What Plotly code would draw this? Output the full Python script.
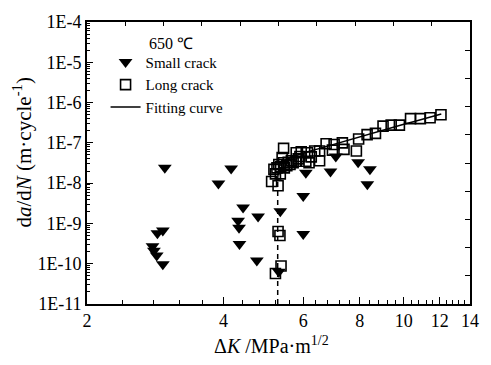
import plotly.graph_objects as go

# ---- data ----
small_dk = [2.97, 2.94, 2.86, 2.79, 2.81, 2.85, 2.94, 3.90, 4.16, 4.42, 4.31, 4.33,
            4.34, 4.77, 4.74, 5.34, 5.30, 6.00, 6.00, 6.08, 6.89, 7.08, 7.93, 8.42, 8.31]
small_rate = [2.4e-8, 6.7e-10, 5.7e-10, 2.7e-10, 2.1e-10, 1.6e-10, 9.7e-11, 9.8e-9, 2.3e-8,
              2.5e-9, 1.17e-9, 7.8e-10, 3.1e-10, 1.48e-9, 1.2e-10, 2.0e-9, 6.3e-11, 4.8e-9,
              5.5e-10, 1.8e-8, 1.95e-8, 4.6e-8, 3.3e-8, 2.2e-8, 9.4e-9]

long_dk = [5.21, 5.36, 5.28, 5.33, 5.11, 5.28, 5.21, 5.34, 5.17, 5.25, 5.30, 5.35, 5.39,
           5.43, 5.43, 5.45, 5.52, 5.56, 5.61, 5.65, 5.70, 5.79, 5.79, 5.85, 5.90, 5.94,
           6.08, 6.13, 6.18, 6.25, 6.36, 6.52, 6.52, 6.74, 6.96, 7.02, 7.32, 7.38, 7.86,
           7.95, 8.30, 8.66, 9.00, 9.38, 9.78, 10.35, 10.88, 11.43, 12.08]
long_rate = [5.7e-11, 8.8e-11, 6.3e-10, 5.0e-10, 1.1e-8, 8.6e-9, 1.7e-8, 1.7e-8, 2.2e-8,
             2.4e-8, 2.9e-8, 2.6e-8, 4.3e-8, 7.3e-8, 3.2e-8, 2.4e-8, 2.7e-8, 3.3e-8, 2.9e-8,
             3.6e-8, 3.2e-8, 3.5e-8, 5.7e-8, 4.0e-8, 4.6e-8, 6.0e-8, 3.5e-8, 5.7e-8, 3.2e-8,
             4.5e-8, 6.3e-8, 3.6e-8, 6.3e-8, 9.5e-8, 6.6e-8, 9.1e-8, 1.0e-7, 6.9e-8, 6.3e-8,
             1.25e-7, 1.6e-7, 1.72e-7, 2.6e-7, 2.75e-7, 2.75e-7, 4.0e-7, 4.0e-7, 4.2e-7, 5.0e-7]

fit_dk = [5.27, 5.28, 5.32, 5.40, 5.60, 6.00, 6.50, 7.00, 7.50, 8.00, 8.50, 9.00, 9.50,
          10.0, 10.5, 11.0, 11.5, 12.1]
fit_rate = [1.2e-8, 1.8e-8, 2.6e-8, 3.4e-8, 4.2e-8, 5.6e-8, 7.2e-8, 9.2e-8, 1.12e-7,
            1.38e-7, 1.68e-7, 2.05e-7, 2.45e-7, 2.9e-7, 3.35e-7, 3.85e-7, 4.45e-7, 5.2e-7]

thr_dk = [5.27, 5.27]
thr_rate = [1e-11, 1.2e-8]

x_major = [2, 4, 6, 8, 10, 12, 14]
x_minor = [round(2 + 0.4 * i, 2) for i in range(31) if i % 5 != 0]
y_major = [1e-11, 1e-10, 1e-9, 1e-8, 1e-7, 1e-6, 1e-5, 1e-4]
y_labels = ["1E-11", "1E-10", "1E-9", "1E-8", "1E-7", "1E-6", "1E-5", "1E-4"]
y_minor = [m * 10.0 ** e for e in range(-11, -4) for m in range(2, 10)]

FONT = "Liberation Serif"

fig = go.Figure()
fig.add_trace(go.Scatter(x=small_dk, y=small_rate, mode="markers", name="Small crack",
                         marker=dict(symbol="triangle-down", size=12, color="black",
                                     line=dict(width=0))))
fig.add_trace(go.Scatter(x=long_dk, y=long_rate, mode="markers", name="Long crack",
                         marker=dict(symbol="square-open", size=10, color="black",
                                     line=dict(width=1.6, color="black"))))
fig.add_trace(go.Scatter(x=fit_dk, y=fit_rate, mode="lines", name="Fitting curve",
                         line=dict(color="black", width=1.5)))
fig.add_trace(go.Scatter(x=thr_dk, y=thr_rate, mode="lines", showlegend=False,
                         line=dict(color="black", width=1.5, dash="5px,4px")))
fig.add_trace(go.Scatter(x=[None], y=[None], xaxis="x2", yaxis="y2", showlegend=False,
                         hoverinfo="skip", mode="markers"))

fig.update_layout(
    width=491, height=365,
    margin=dict(l=87, r=12, t=20, b=61),
    plot_bgcolor="white", paper_bgcolor="white",
    font=dict(family=FONT, size=18, color="black"),
    showlegend=True,
    legend=dict(x=(106 - 87) / 392, y=(304 - 44) / 284, xanchor="left", yanchor="top",
                bgcolor="rgba(0,0,0,0)", font=dict(family=FONT, size=15, color="black"),
                tracegroupgap=0, itemwidth=30),
    xaxis=dict(type="log", range=[0.30103, 1.146128], tickmode="array",
               tickvals=x_major, ticktext=[str(v) for v in x_major],
               ticks="inside", ticklen=7, tickwidth=1.2, tickcolor="black",
               minor=dict(tickmode="array", tickvals=x_minor, ticks="inside", ticklen=4,
                          tickwidth=1.2, tickcolor="black"),
               showline=True, linewidth=1.6, linecolor="black", mirror=True,
               showgrid=False, zeroline=False, tickfont=dict(family=FONT, size=18)),
    yaxis=dict(type="log", range=[-11, -4], tickmode="array",
               tickvals=y_major, ticktext=y_labels,
               ticks="inside", ticklen=6, tickwidth=1.2, tickcolor="black",
               minor=dict(tickmode="array", tickvals=y_minor, ticks="inside", ticklen=3,
                          tickwidth=1, tickcolor="black"),
               showline=True, linewidth=1.6, linecolor="black", mirror=True,
               showgrid=False, zeroline=False, tickfont=dict(family=FONT, size=18)),
    xaxis2=dict(type="linear", overlaying="x", side="top", anchor="y", range=[0, 10],
                tickmode="array", tickvals=list(range(1, 10)), ticks="inside", ticklen=4,
                tickcolor="black", showticklabels=False, showgrid=False, zeroline=False,
                showline=False),
    yaxis2=dict(type="linear", overlaying="y", side="right", anchor="x", range=[0, 10],
                tickmode="array", tickvals=list(range(1, 10)), ticks="inside", ticklen=5,
                tickcolor="black", showticklabels=False, showgrid=False, zeroline=False,
                showline=False),
    annotations=[
        dict(text="650 ℃", xref="paper", yref="paper", x=(148 - 87) / 392,
             y=(304 - 42) / 284, xanchor="left", yanchor="middle", showarrow=False,
             font=dict(family=FONT, size=16, color="black")),
        dict(text="Δ<i>K</i> /MPa·m<sup>1/2</sup>", xref="paper", yref="paper",
             x=(276 - 87) / 392, y=(304 - 345) / 284, xanchor="center", yanchor="middle",
             showarrow=False, font=dict(family=FONT, size=20, color="black")),
        dict(text="d<i>a</i>/d<i>N</i> (m·cycle<sup>-1</sup>)", xref="paper", yref="paper",
             x=(21 - 87) / 392, y=(304 - 152) / 284, xanchor="center", yanchor="middle",
             textangle=-90, showarrow=False, font=dict(family=FONT, size=21, color="black")),
    ],
)

fig.write_html("out.html")
